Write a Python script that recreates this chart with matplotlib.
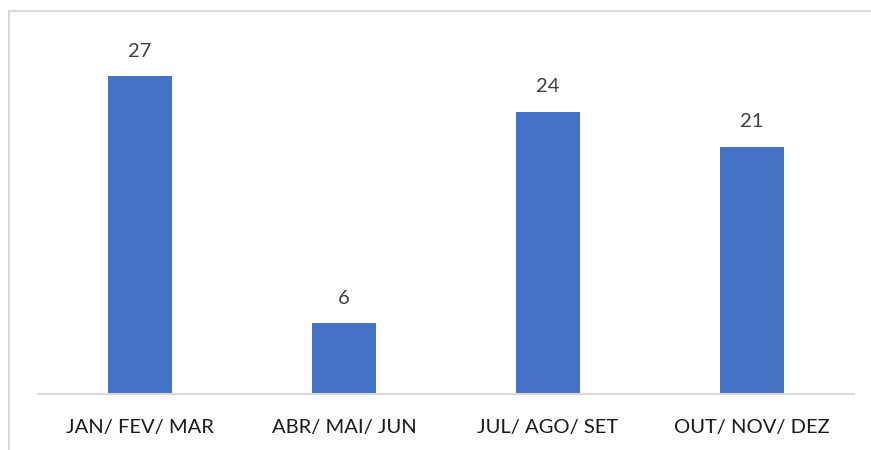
import matplotlib
matplotlib.use("Agg")
import matplotlib.pyplot as plt
import matplotlib.patches as patches
import numpy as np

# --- dados ---
trimestres = ['JAN/ FEV/ MAR', 'ABR/ MAI/ JUN', 'JUL/ AGO/ SET', 'OUT/ NOV/ DEZ']
quantidades = [27, 6, 24, 21]

plt.rcParams['font.family'] = ['Lato', 'DejaVu Sans']

W, H = 871, 450
fig = plt.figure(figsize=(W / 100, H / 100), dpi=100)

# moldura do gráfico (cortada à direita e embaixo)
moldura = patches.Rectangle((9 / W, -0.1), 1.2, (H - 11) / H + 0.1,
                            transform=fig.transFigure, fill=False,
                            edgecolor='#D9D9D9', linewidth=1.5)
fig.add_artist(moldura)

ax = fig.add_axes([38 / W, 56 / H, (854 - 38) / W, (409 - 56) / H])
x = np.arange(len(trimestres))
barras = ax.bar(x, quantidades, width=0.314, color='#4472C4')

ax.set_xlim(-0.5, len(trimestres) - 0.5)
ax.set_ylim(0, 30)

for b, v in zip(barras, quantidades):
    ax.annotate(str(v), (b.get_x() + b.get_width() / 2, v), xytext=(0, 25),
                textcoords='offset pixels', ha='center', va='center',
                fontsize=14.5, color='#404040')

ax.set_xticks(x)
ax.set_xticklabels(trimestres, fontsize=14.5, color='#1a1a1a')
ax.tick_params(axis='x', length=0, pad=18)
ax.set_yticks([])
for lado in ['top', 'right', 'left']:
    ax.spines[lado].set_visible(False)
ax.spines['bottom'].set_color('#D9D9D9')
ax.spines['bottom'].set_linewidth(1.5)

fig.savefig('out.png', dpi=100)
